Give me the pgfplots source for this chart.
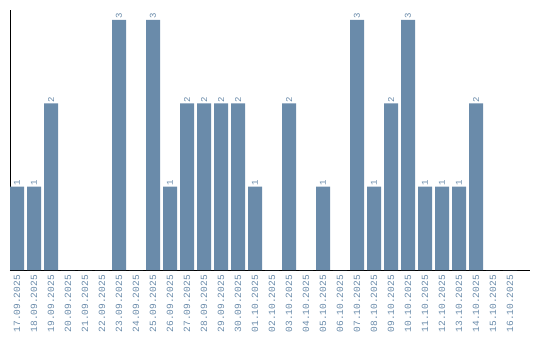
\documentclass[border=0pt]{standalone}
\usepackage{pgfplots}
\pgfplotsset{compat=1.18}
\usepackage{fontspec}
\setmainfont{Liberation Mono}
\definecolor{barc}{HTML}{6A8BAA}
\begin{document}
\begin{tikzpicture}[x=1pt,y=1pt]
\begin{axis}[
  at={(0pt,0pt)}, anchor=south west,
  scale only axis, width=520pt, height=260pt,
  xmin=-0.4118, xmax=30.176, ymin=0, ymax=3.12,
  axis x line=bottom, axis y line=left,
  axis line style={-, black, line width=0.8pt},
  ytick=\empty,
  xtick={0,...,29},
  xticklabels={17.09.2025,18.09.2025,19.09.2025,20.09.2025,21.09.2025,22.09.2025,23.09.2025,24.09.2025,25.09.2025,26.09.2025,27.09.2025,28.09.2025,29.09.2025,30.09.2025,01.10.2025,02.10.2025,03.10.2025,04.10.2025,05.10.2025,06.10.2025,07.10.2025,08.10.2025,09.10.2025,10.10.2025,11.10.2025,12.10.2025,13.10.2025,14.10.2025,15.10.2025,16.10.2025},
  major tick length=0pt,
  xticklabel style={rotate=90, anchor=east, font=\fontsize{9.5}{10}\selectfont, text=barc, inner sep=0pt, xshift=-5pt},
  /pgf/number format/assume math mode=true,
  clip=false,
]
\addplot[ybar, bar width=14pt, fill=barc, draw=none, bar shift=0pt,
  visualization depends on={y \as \yv},
  nodes near coords={\ifdim\yv pt>0pt \pgfmathprintnumber{\yv}\fi},
  nodes near coords style={rotate=90, anchor=west, font=\fontsize{9}{10}\selectfont, text=barc, inner sep=1pt},
] coordinates {
(0,1) (1,1) (2,2) (3,0) (4,0) (5,0) (6,3) (7,0) (8,3) (9,1)
(10,2) (11,2) (12,2) (13,2) (14,1) (15,0) (16,2) (17,0) (18,1) (19,0)
(20,3) (21,1) (22,2) (23,3) (24,1) (25,1) (26,1) (27,2) (28,0) (29,0)
};
\end{axis}
\path[use as bounding box] (-10pt,-70pt) rectangle (530pt,270pt);
\end{tikzpicture}
\end{document}
